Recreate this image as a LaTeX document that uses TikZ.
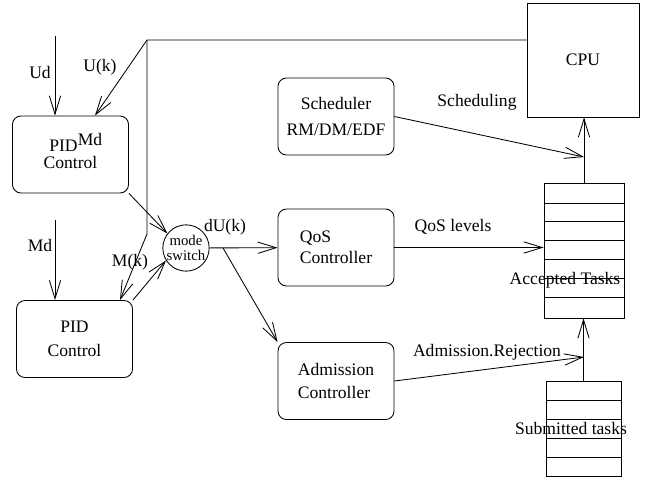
\documentclass[tikz,border=0pt]{standalone}
\usepackage{fontspec}
\setmainfont{Liberation Serif}
\usepackage{tikz}
\usetikzlibrary{ positioning, % For easy node-relative placements
                 calc,        % For shifted anchors
                 arrows.meta, % For the open arrow tips
               }

\begin{document}
\begin{tikzpicture}[x=0.025cm, y=-0.025cm, line width=0.6pt,
    font=\fontsize{12.5}{14}\selectfont,
    box/.style={draw, rounded corners=6pt, minimum width=2.9cm, minimum height=1.925cm},
    arr/.style={-{Straight Barb[length=13pt,width=8pt]}}] % pixel-like coordinates
  \useasboundingbox (0,0) rectangle (648,479);

  \node[draw, minimum width=2.8cm, minimum height=2.85cm] (cpu) at (583,60) {CPU};
  \node[box, align=center] (sched) at (336,116.5) {Scheduler\\[5pt]RM/DM/EDF};
  \node[box, align=left] (qos_ctrl) at (336,247.5) {QoS\\[1pt]Controller};
  \node[box, align=left] (adm_ctrl) at (336,381) {Admission\\[2pt]Controller};
  \node[box, align=center] (pid_top) at (70.5,154.5) {PID\hspace*{10pt}\\[-2pt]Control};
  \node (pid_md) at (90,139) {Md};
  \node[box, align=center] (pid_bottom) at (74.5,339) {PID\\[3pt]Control};
  \node[draw, circle, minimum size=1.15cm, inner sep=0pt, align=center,
        font=\fontsize{10.5}{11}\selectfont] (mode_switch) at (186,248) {mode\\switch};

  \node[draw, minimum width=2cm, minimum height=3.375cm] (accepted) at (584,250.5) {};
  \node[draw, minimum width=1.875cm, minimum height=2.375cm] (submitted) at (583.5,428.5) {};
  \foreach \y in {203,221,240,259,278,297}
    \draw (544,\y) -- (624,\y);
  \foreach \y in {400,419,438,457}
    \draw (546,\y) -- (621,\y);
  \node (accepted_lbl) at (565,280) {Accepted Tasks};
  \node (submitted_lbl) at (571,428) {Submitted tasks};

  \coordinate (fb_top) at (147,40);
  \coordinate (fb_low) at (147,234);
  \coordinate (ud_in) at (55,36);
  \coordinate (md_in) at (55,220);
  \coordinate (du_split) at (223,248);
  \coordinate (sched_in) at (584,157);
  \coordinate (adm_in) at (584,357);

  \draw[arr] (cpu.west |- fb_top) -- (fb_top) -- (fb_low) -- ($(pid_bottom.north)+(45.5,0)$);
  \draw[arr] (fb_top) -- ($(pid_top.north)+(24.5,0)$);
  \draw[arr] (ud_in) -- (ud_in |- pid_top.north);
  \draw[arr] (md_in) -- (md_in |- pid_bottom.north);
  \node (ud_lbl) at (40,72) {Ud};
  \node (uk_lbl) at (100,67) {U(k)};
  \node (md_lbl) at (40,245) {Md};
  \node (mk_lbl) at (130,262) {M(k)};

  \draw[arr] (pid_top.south east) -- (mode_switch.142);
  \draw[arr] (pid_bottom.north east) -- (mode_switch.212);
  \draw[arr] (mode_switch) -- (qos_ctrl);
  \node (du_lbl) at (225,227) {dU(k)};
  \draw[arr] (du_split) -- (adm_ctrl.north west);

  \draw[arr] (qos_ctrl) -- (qos_ctrl -| accepted.west);
  \node (qos_lbl) at (453,227) {QoS levels};
  \draw[arr] (sched.east) -- (sched_in);
  \node (sched_lbl) at (477,102) {Scheduling};
  \draw[arr] (accepted.north) -- (accepted.north |- cpu.south);
  \draw[arr] (adm_ctrl.east) -- (adm_in);
  \node (adm_lbl) at (487,352) {Admission.Rejection};
  \draw[arr] (submitted.north) -- (submitted.north |- accepted.south);
\end{tikzpicture}
\end{document}
